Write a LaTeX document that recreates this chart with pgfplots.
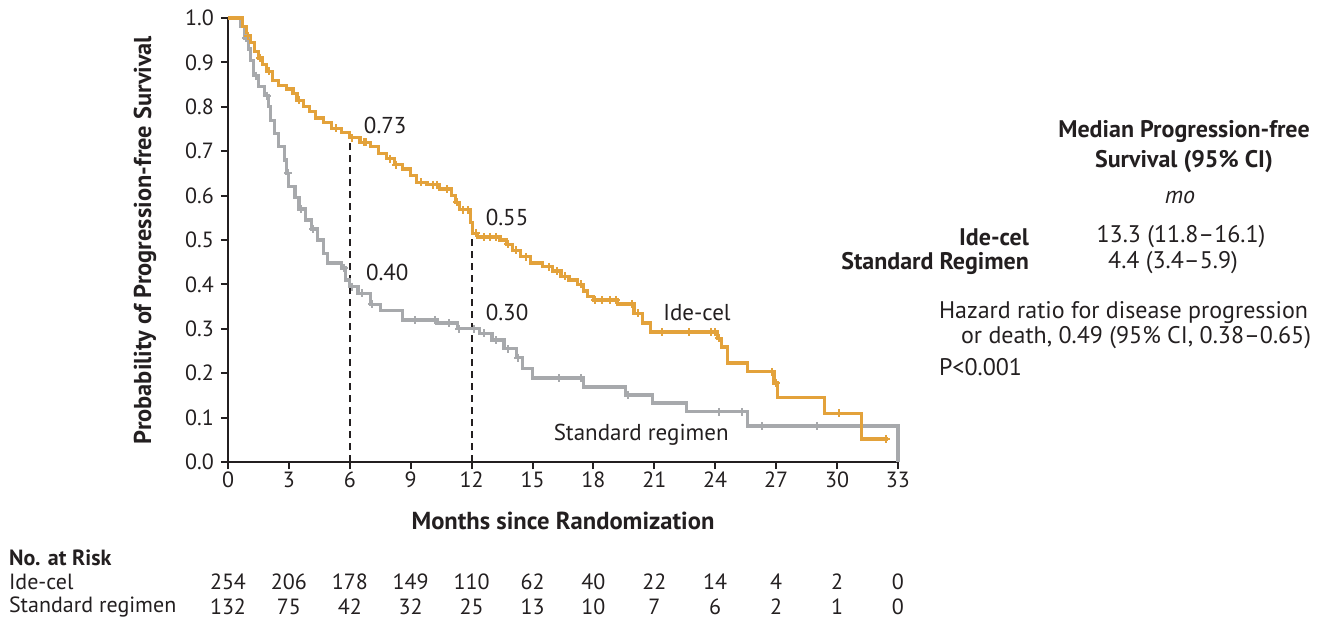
\documentclass[border=0pt]{standalone}
\usepackage{pgfplots}
\pgfplotsset{compat=1.18}
\usepackage{fontspec}
\setmainfont{PT Sans}
\definecolor{idecel}{HTML}{E3A23B}
\definecolor{stdreg}{HTML}{A7A9AC}
\definecolor{ink}{HTML}{231F20}

% step curves: x where the step starts, survival from there on
\pgfplotstableread{
x y
0 1.0
0.7 0.98
0.9 0.96
1.1 0.945
1.3 0.925
1.5 0.91
1.7 0.895
1.9 0.88
2.2 0.86
2.5 0.848
2.9 0.84
3.2 0.83
3.4 0.815
3.7 0.80
4.0 0.79
4.3 0.775
4.7 0.765
5.1 0.752
5.6 0.742
6.0 0.73
6.5 0.72
7.0 0.71
7.4 0.695
7.8 0.683
8.2 0.67
8.6 0.66
9.0 0.645
9.3 0.63
9.8 0.625
10.4 0.615
11.0 0.60
11.2 0.585
11.4 0.568
11.95 0.54
12.05 0.515
12.3 0.507
13.4 0.50
13.7 0.49
14.0 0.477
14.4 0.462
14.9 0.448
15.5 0.44
16.0 0.43
16.4 0.418
16.8 0.41
17.2 0.40
17.5 0.385
17.7 0.372
18.0 0.365
19.2 0.356
20.0 0.335
20.4 0.313
20.8 0.293
24.1 0.279
24.3 0.259
24.6 0.223
25.6 0.203
26.9 0.178
27.05 0.146
29.4 0.110
31.2 0.052
32.5 0.052
}\idecel

\pgfplotstableread{
x y
1.0 0.96
1.6 0.91
2.0 0.88
3.5 0.815
5.3 0.752
6.1 0.73
6.7 0.72
6.8 0.72
8.0 0.683
8.3 0.67
9.5 0.63
10.1 0.625
10.3 0.625
10.8 0.615
11.3 0.585
11.6 0.568
11.8 0.568
12.2 0.515
12.6 0.507
12.9 0.507
13.2 0.507
13.8 0.49
14.2 0.477
14.7 0.462
15.8 0.44
16.2 0.43
16.6 0.418
17.4 0.40
18.1 0.365
18.4 0.365
18.8 0.365
19.1 0.365
19.9 0.356
20.2 0.335
21.4 0.293
22.7 0.293
23.8 0.293
24.0 0.293
24.2 0.279
26.8 0.203
27.0 0.178
30.1 0.110
32.4 0.052
}\idecelcens

\pgfplotstableread{
x y
0 1.0
0.6 0.98
0.8 0.955
1.0 0.93
1.1 0.905
1.25 0.87
1.5 0.845
1.8 0.825
2.0 0.80
2.1 0.77
2.3 0.74
2.5 0.71
2.8 0.68
2.9 0.65
3.0 0.62
3.3 0.595
3.5 0.57
3.8 0.545
4.1 0.525
4.4 0.50
4.7 0.47
4.9 0.448
5.6 0.437
5.8 0.41
6.0 0.395
6.4 0.38
7.0 0.355
7.5 0.342
8.6 0.32
10.3 0.313
11.3 0.30
12.4 0.29
13.0 0.275
13.6 0.255
14.2 0.235
14.5 0.21
15.0 0.189
17.5 0.169
19.6 0.151
20.9 0.133
22.6 0.113
25.6 0.081
33.0 0.0
}\stdreg

\pgfplotstableread{
x y
0.9 0.955
1.4 0.87
1.9 0.825
2.95 0.65
3.6 0.57
4.2 0.525
5.7 0.437
6.1 0.395
6.6 0.38
7.1 0.355
9.2 0.32
10.2 0.32
10.9 0.313
11.4 0.30
12.1 0.30
12.6 0.29
13.2 0.275
13.8 0.255
14.3 0.235
16.3 0.189
17.4 0.189
19.7 0.151
24.2 0.113
25.3 0.113
26.3 0.081
29.0 0.081
}\stdregcens

\begin{document}
\begin{tikzpicture}[font=\fontsize{10.5}{12}\selectfont, text=ink]
\useasboundingbox (-114pt,-80.5pt) rectangle (554.5pt,231pt);
\begin{axis}[
  at={(0pt,0pt)}, anchor=south west,
  x=10.15pt, y=222pt,
  xmin=0, xmax=33, ymin=0, ymax=1,
  axis lines=left,
  axis line style={-, line width=1pt, draw=ink},
  xtick={0,3,...,33},
  ytick={0,0.1,0.2,0.3,0.4,0.5,0.6,0.7,0.8,0.9,1.0},
  tick align=outside,
  major tick length=3.5pt,
  tick style={line width=1pt, draw=ink},
  /pgf/number format/assume math mode=true,
  yticklabel style={/pgf/number format/.cd, fixed, fixed zerofill, precision=1},
  xticklabel style={yshift=2pt},
  tick label style={font=\fontsize{11}{12}\selectfont, text=ink},
  clip=false,
]
\draw[ink, line width=1pt, dash pattern=on 3.5pt off 2.5pt] (axis cs:6,0) -- (axis cs:6,0.725);
\draw[ink, line width=1pt, dash pattern=on 3.5pt off 2.5pt] (axis cs:12,0) -- (axis cs:12,0.51);

\addplot[const plot, stdreg, line width=1.6pt, no marks] table {\stdreg};
\addplot[only marks, mark=+, mark size=2pt, stdreg, mark options={line width=1pt}] table {\stdregcens};
\addplot[const plot, idecel, line width=1.6pt, no marks] table {\idecel};
\addplot[only marks, mark=+, mark size=2pt, idecel, mark options={line width=1pt}] table {\idecelcens};

\node[anchor=west, font=\fontsize{11.5}{12}\selectfont] at (axis cs:6.35,0.759) {0.73};
\node[anchor=west, font=\fontsize{11.5}{12}\selectfont] at (axis cs:6.45,0.426) {0.40};
\node[anchor=west, font=\fontsize{11.5}{12}\selectfont] at (axis cs:12.35,0.55) {0.55};
\node[anchor=west, font=\fontsize{11.5}{12}\selectfont] at (axis cs:12.35,0.336) {0.30};
\node[anchor=west, font=\fontsize{11.5}{12}\selectfont] at (axis cs:21.1,0.336) {Ide-cel};
\node[anchor=west, font=\fontsize{11.5}{12}\selectfont] at (axis cs:15.7,0.061) {Standard regimen};
\end{axis}

% axis titles
\node[rotate=90, font=\bfseries\fontsize{12.2}{14}\selectfont] at (-41.5pt,111pt) {Probability of Progression-free Survival};
\node[font=\bfseries\fontsize{12.3}{14}\selectfont] at (167.5pt,-29.5pt) {Months since Randomization};

% numbers at risk
\node[anchor=west, font=\bfseries\fontsize{11}{12}\selectfont] at (-113pt,-48pt) {No. at Risk};
\node[anchor=west, font=\fontsize{11}{12}\selectfont] at (-113pt,-60pt) {Ide-cel};
\node[anchor=west, font=\fontsize{11}{12}\selectfont] at (-113pt,-72.5pt) {Standard regimen};
\foreach \n [count=\i from 0] in {254,206,178,149,110,62,40,22,14,4,2,0}
  \node[font=\fontsize{11}{12}\selectfont] at ({\i*30.45pt},-60pt) {\n};
\foreach \n [count=\i from 0] in {132,75,42,32,25,13,10,7,6,2,1,0}
  \node[font=\fontsize{11}{12}\selectfont] at ({\i*30.45pt},-72.5pt) {\n};

% summary block
\node[font=\bfseries\fontsize{12}{14}\selectfont] at (478pt,165pt) {Median Progression-free};
\node[font=\bfseries\fontsize{12}{14}\selectfont] at (478pt,150pt) {Survival (95\% CI)};
\node[font=\itshape\fontsize{12}{14}\selectfont] at (476pt,132.5pt) {mo};
\node[anchor=east, font=\bfseries\fontsize{12}{14}\selectfont] at (404pt,112.5pt) {Ide-cel};
\node[anchor=east, font=\bfseries\fontsize{12}{14}\selectfont] at (404pt,99.5pt) {Standard Regimen};
\node[font=\fontsize{12}{14}\selectfont] at (476.5pt,112.5pt) {13.3 (11.8–16.1)};
\node[font=\fontsize{12}{14}\selectfont] at (472.5pt,99.5pt) {4.4 (3.4–5.9)};
\node[anchor=west, font=\fontsize{12}{14}\selectfont] at (352pt,74.5pt) {Hazard ratio for disease progression};
\node[anchor=west, font=\fontsize{12}{14}\selectfont] at (363pt,62pt) {or death, 0.49 (95\% CI, 0.38–0.65)};
\node[anchor=west, font=\fontsize{12}{14}\selectfont] at (352pt,47.5pt) {P<0.001};
\end{tikzpicture}
\end{document}
